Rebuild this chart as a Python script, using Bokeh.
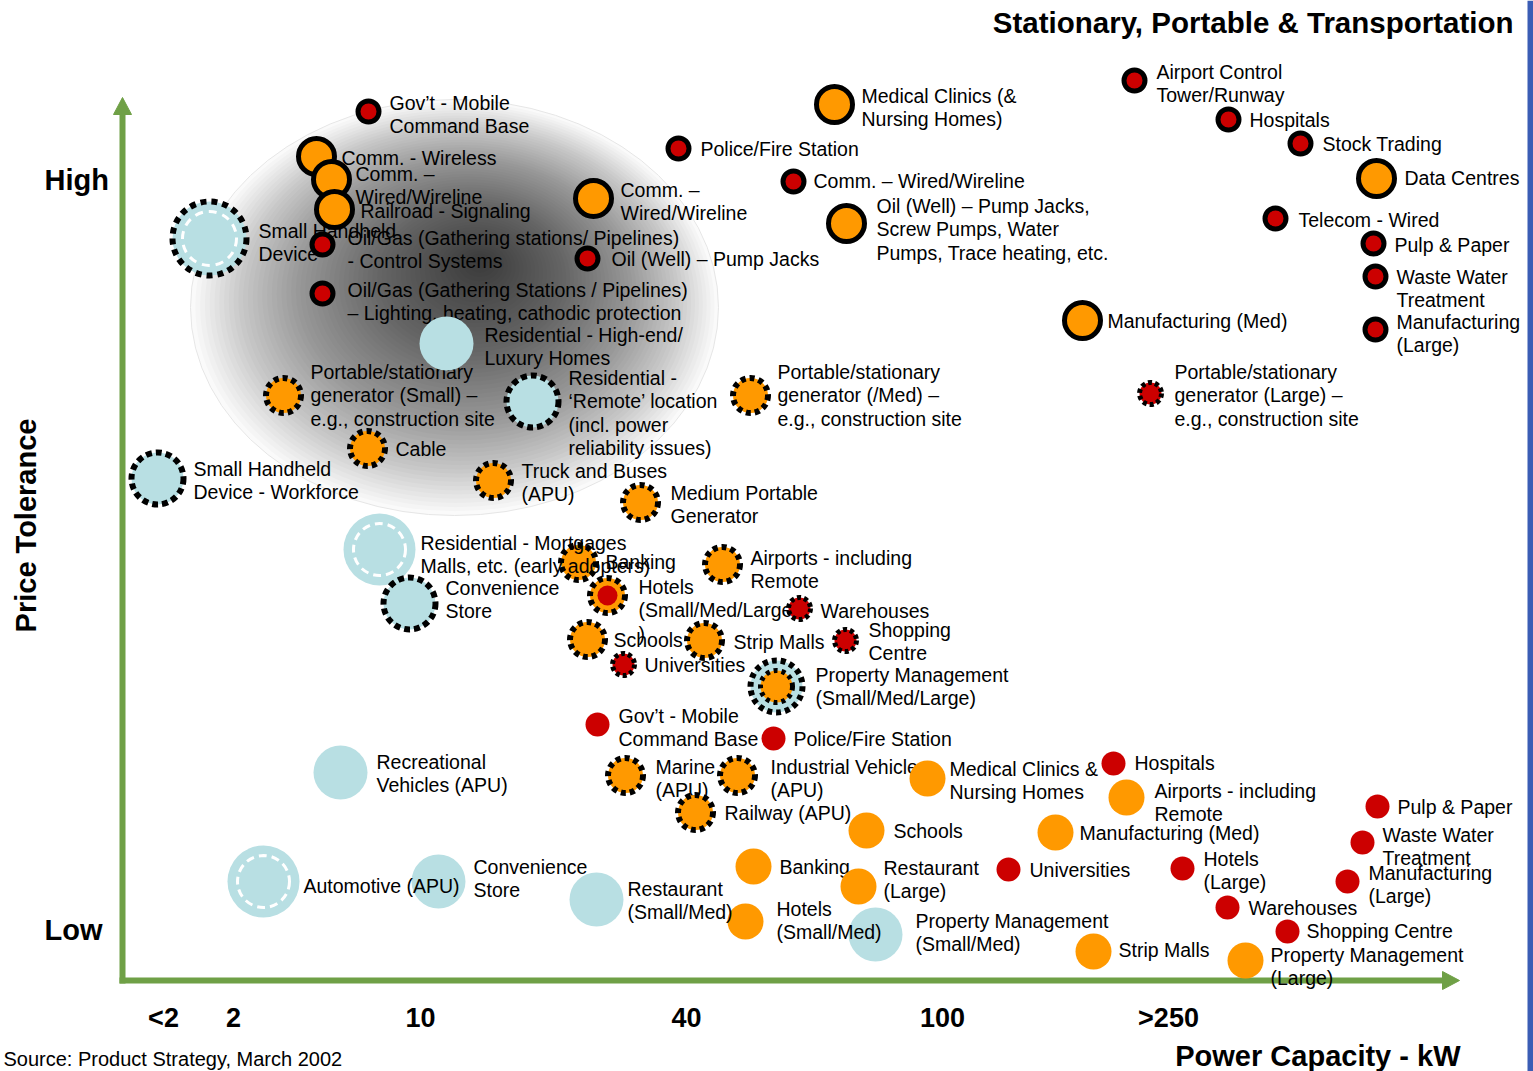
import math
from bokeh.plotting import figure
from bokeh.models import Range1d
from bokeh.core.properties import value
from bokeh.embed import file_html
from bokeh.resources import INLINE

# ---------------- data ----------------
# application segments: label, power-capacity position, price-tolerance position (0 = top)
names = [
    "Gov’t - Mobile\nCommand Base",
    "Small Handheld\nDevice",
    "Comm. - Wireless",
    "Comm. –\nWired/Wireline",
    "Railroad - Signaling",
    "Oil/Gas (Gathering stations/ Pipelines)\n- Control Systems",
    "Oil/Gas (Gathering Stations / Pipelines)\n– Lighting, heating, cathodic protection",
    "Comm. –\nWired/Wireline",
    "Oil (Well) – Pump Jacks",
    "Police/Fire Station",
    "Medical Clinics (&\nNursing Homes)",
    "Comm. – Wired/Wireline",
    "Oil (Well) – Pump Jacks,\nScrew Pumps, Water\nPumps, Trace heating, etc.",
    "Airport Control\nTower/Runway",
    "Hospitals",
    "Stock Trading",
    "Data Centres",
    "Telecom - Wired",
    "Pulp & Paper",
    "Waste Water\nTreatment",
    "Manufacturing\n(Large)",
    "Manufacturing (Med)",
    "Portable/stationary\ngenerator (Large) –\ne.g., construction site",
    "Portable/stationary\ngenerator (/Med) –\ne.g., construction site",
    "Portable/stationary\ngenerator (Small) –\ne.g., construction site",
    "Residential - High-end/\nLuxury Homes",
    "Residential -\n‘Remote’ location\n(incl. power\nreliability issues)",
    "Cable",
    "Small Handheld\nDevice - Workforce",
    "Truck and Buses\n(APU)",
    "Medium Portable\nGenerator",
    "Banking",
    "Residential - Mortgages\nMalls, etc. (early adopters)",
    "Airports - including\nRemote",
    "Hotels\n(Small/Med/Large\n)",
    "Convenience\nStore",
    "Warehouses",
    "Schools",
    "Strip Malls",
    "Shopping\nCentre",
    "Universities",
    "Property Management\n(Small/Med/Large)",
    "Gov’t - Mobile\nCommand Base",
    "Police/Fire Station",
    "Recreational\nVehicles (APU)",
    "Marine\n(APU)",
    "Industrial Vehicle\n(APU)",
    "Railway (APU)",
    "Medical Clinics &\nNursing Homes",
    "Hospitals",
    "Airports - including\nRemote",
    "Pulp & Paper",
    "Waste Water\nTreatment",
    "Schools",
    "Manufacturing (Med)",
    "Banking",
    "Restaurant\n(Large)",
    "Universities",
    "Hotels\n(Large)",
    "Manufacturing\n(Large)",
    "Warehouses",
    "Shopping Centre",
    "Property Management\n(Large)",
    "Strip Malls",
    "Property Management\n(Small/Med)",
    "Hotels\n(Small/Med)",
    "Restaurant\n(Small/Med)",
    "Convenience\nStore",
    "Automotive (APU)",
]
capacity = [368, 209, 316, 331, 334, 322, 322, 593, 587, 678, 834, 793, 846, 1134, 1228,
            1300, 1376, 1275, 1373, 1375, 1375, 1082, 1150, 750, 283, 446, 532, 367, 157,
            493, 640, 578, 379, 722, 607, 409, 799, 587, 704, 845, 623, 776,
            597, 773, 340, 625, 737, 695, 927, 1113, 1126, 1377, 1362, 866, 1055, 753,
            858, 1008, 1182, 1347, 1227, 1287, 1245, 1093, 875, 745, 596, 438, 263]
tolerance = [111, 238, 156, 179, 209, 244, 293, 198, 258, 148, 104, 181, 223, 80, 119,
             143, 178, 218, 243, 276, 329, 320, 393, 395, 395, 343, 401, 448, 478,
             480, 502, 562, 549, 564, 595, 603, 608, 639, 640, 640, 664, 686,
             724, 738, 772, 775, 775, 812, 778, 763, 797, 806, 842, 830, 832, 866,
             886, 869, 868, 881, 907, 931, 960, 951, 934, 921, 899, 881, 881]
kinds = ["r_ring", "b_dot_dash", "o_ring", "o_ring", "o_ring", "r_ring", "r_ring", "o_ring",
         "r_ring", "r_ring", "o_ring", "r_ring", "o_ring", "r_ring", "r_ring", "r_ring",
         "o_ring", "r_ring", "r_ring", "r_ring", "r_ring", "o_ring", "r_dot", "o_dot",
         "o_dot", "b", "b_dot", "o_dot", "b_dot", "o_dot", "o_dot", "o_dot", "b_dash",
         "o_dot", "or_dot", "b_dot", "r_dot", "o_dot", "o_dot", "r_dot", "r_dot", "b_dot_o",
         "r", "r", "b", "o_dot", "o_dot", "o_dot", "o", "r", "o", "r", "r", "o", "o", "o",
         "o", "r", "r", "r", "r", "r", "o", "o", "b", "o", "b", "b", "b_dash"]
label_x = [389, 258, 341, 355, 360, 347, 347, 620, 611, 700, 861, 813, 876, 1156, 1249,
           1322, 1404, 1298, 1394, 1396, 1396, 1107, 1174, 777, 310, 484, 568, 395, 193,
           521, 670, 605, 420, 750, 638, 445, 820, 613, 733, 868, 644, 815,
           618, 793, 376, 655, 770, 724, 949, 1134, 1154, 1397, 1382, 893, 1079, 779,
           883, 1029, 1203, 1368, 1248, 1306, 1270, 1118, 915, 776, 627, 473, 303]
label_y = [102, 230, 157, 173, 210, 237, 289, 189, 258, 148, 95, 180, 205, 71, 119,
           143, 177, 219, 244, 276, 321, 320, 371, 371, 371, 334, 377, 448, 468,
           470, 492, 561, 542, 557, 586, 587, 610, 639, 641, 629, 664, 674,
           715, 738, 761, 766, 766, 812, 768, 762, 790, 806, 834, 830, 832, 866,
           867, 869, 858, 872, 907, 930, 954, 949, 920, 908, 888, 866, 885]

tick_labels = ["<2", "2", "10", "40", "100", ">250"]
tick_pos = [163, 233, 420, 686, 942, 1168]
level_labels = ["High", "Low"]
level_pos = [179, 929]

# ---------------- styles ----------------
ORANGE = "#FF9900"
RED = "#CC0000"
BLUE = "#B8DFE3"
GREEN = "#6FA046"
FONT = value("Liberation Sans")
LINE_GAP = 23.6

p = figure(width=1533, height=1071, output_backend="svg", toolbar_location=None,
           x_range=Range1d(0, 1533), y_range=Range1d(1071, 0),
           min_border=0, min_border_left=0, min_border_right=0,
           min_border_top=0, min_border_bottom=0)
p.axis.visible = False
p.grid.visible = False
p.outline_line_color = None
p.background_fill_color = "white"
p.border_fill_color = "white"

# shaded "sweet spot" blob (radial gradient imitation)
N = 60
ocx, ocy, orx, ory = 454, 307, 264, 208
fcx, fcy = 480, 262
ex, ey, ew, eh = [], [], [], []
for k in range(N):
    t = k / (N - 1)
    s = 1 - 0.97 * t
    ex.append(ocx + (fcx - ocx) * t)
    ey.append(ocy + (fcy - ocy) * t)
    ew.append(2 * orx * s)
    eh.append(2 * ory * s)
p.ellipse(x=ex, y=ey, width=ew, height=eh, width_units="screen", height_units="screen",
          fill_color="black", fill_alpha=0.018, line_color=None)
p.ellipse(x=[ocx], y=[ocy], width=[2 * orx], height=[2 * ory], width_units="screen",
          height_units="screen", fill_color=None, line_color="#e6e6e6", line_width=1)

# green arrow axes
AX_X, AX_Y, AX_TOP, AX_RIGHT, HEAD = 122, 980, 97, 1459, 17
p.segment(x0=[AX_X], y0=[AX_Y + 3], x1=[AX_X], y1=[AX_TOP + HEAD - 1],
          line_color=GREEN, line_width=6)
p.segment(x0=[AX_X - 3], y0=[AX_Y], x1=[AX_RIGHT - HEAD + 1], y1=[AX_Y],
          line_color=GREEN, line_width=6)
p.patch(x=[AX_X, AX_X - 9, AX_X + 9], y=[AX_TOP, AX_TOP + HEAD, AX_TOP + HEAD],
        fill_color=GREEN, line_color=GREEN, line_width=1)
p.patch(x=[AX_RIGHT, AX_RIGHT - HEAD, AX_RIGHT - HEAD], y=[AX_Y, AX_Y - 9, AX_Y + 9],
        fill_color=GREEN, line_color=GREEN, line_width=1)


def circ(x, y, r, fill, line=None, lw=1, dash="solid"):
    p.circle(x=[x], y=[y], radius=r, radius_units="screen", fill_color=fill,
             line_color=line, line_width=lw, line_dash=dash)


def marker(x, y, k):
    if k == "o_ring":
        circ(x, y, 18, ORANGE, "black", 5)
    elif k == "r_ring":
        circ(x, y, 10.5, RED, "black", 5)
    elif k == "o_dot":
        circ(x, y, 17.5, ORANGE, "black", 6, "5 4")
    elif k == "r_dot":
        circ(x, y, 11, RED, "black", 5, "4 3")
    elif k == "or_dot":
        circ(x, y, 17.5, ORANGE, "black", 6, "5 4")
        circ(x, y, 10, RED)
    elif k == "b_dot":
        circ(x, y, 26, BLUE, "black", 6, "6 4")
    elif k == "b_dash":
        circ(x, y, 36, BLUE)
        circ(x, y, 26, None, "white", 3, "8 5")
    elif k == "b_dot_dash":
        circ(x, y, 37, BLUE, "black", 6, "6 5")
        circ(x, y, 27, None, "white", 3, "8 6")
    elif k == "b_dot_o":
        circ(x, y, 26, BLUE, "black", 6, "5 4")
        circ(x, y, 16, ORANGE, "black", 5, "4 4")
    elif k == "o":
        circ(x, y, 18, ORANGE)
    elif k == "r":
        circ(x, y, 12, RED)
    elif k == "b":
        circ(x, y, 27, BLUE)


for i, name in enumerate(names):
    marker(capacity[i], tolerance[i], kinds[i])
    lines = name.split("\n")
    p.text(x=[label_x[i]] * len(lines),
           y=[label_y[i] + j * LINE_GAP for j in range(len(lines))],
           text=lines, text_font=FONT, text_font_size="19.5px",
           text_baseline="middle", text_align="left", text_color="black")

# axis texts
p.text(x=tick_pos, y=[1017] * len(tick_pos), text=tick_labels, text_font=FONT,
       text_font_size="27px", text_font_style="bold", text_align="center",
       text_baseline="middle", text_color="black")
p.text(x=[44] * 2, y=level_pos, text=level_labels, text_font=FONT,
       text_font_size="29px", text_font_style="bold", text_align="left",
       text_baseline="middle", text_color="black")
p.text(x=[25], y=[525], text=["Price Tolerance"], angle=math.pi / 2, text_font=FONT,
       text_font_size="29px", text_font_style="bold", text_align="center",
       text_baseline="middle", text_color="black")
p.text(x=[1460], y=[1055], text=["Power Capacity - kW"], text_font=FONT,
       text_font_size="29px", text_font_style="bold", text_align="right",
       text_baseline="middle", text_color="black")
p.text(x=[1513], y=[22], text=["Stationary, Portable & Transportation"], text_font=FONT,
       text_font_size="29.5px", text_font_style="bold", text_align="right",
       text_baseline="middle", text_color="black")
p.text(x=[3], y=[1058], text=["Source: Product Strategy, March 2002"], text_font=FONT,
       text_font_size="20px", text_align="left", text_baseline="middle",
       text_color="black")

# right-hand slide edge strip
p.quad(left=[1527], right=[1533], top=[0], bottom=[1071], fill_color="#3B5DB5",
       line_color=None)

open("out.html", "w").write(file_html(p, INLINE))
